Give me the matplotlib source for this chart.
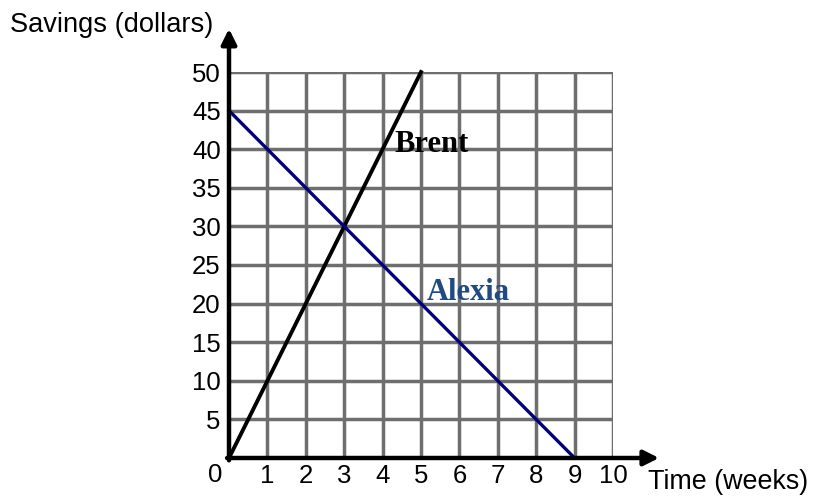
import matplotlib
matplotlib.use("Agg")
import matplotlib.pyplot as plt

# savings over time for the two people
brent_weeks = [0, 5]
brent_savings = [0, 50]
alexia_weeks = [0, 9]
alexia_savings = [45, 0]

x_ticks = list(range(1, 11))
y_ticks = list(range(5, 55, 5))

W, H = 814, 497
fig = plt.figure(figsize=(W / 100, H / 100), dpi=100)
# axes placed so that 0..10 weeks spans px 229..613 and 0..50 dollars spans px 458..72
ax = fig.add_axes([229 / W, (H - 458) / H, 384 / W, 386 / H])
ax.set_xlim(0, 10)
ax.set_ylim(0, 50)

sans = "Liberation Sans"
serif = "Liberation Serif"
grid_c = "#6e6e6e"

# grid
for x in x_ticks:
    ax.plot([x, x], [0, 50], color=grid_c, lw=2.5, zorder=1, solid_capstyle="projecting")
for y in y_ticks:
    ax.plot([0, 10], [y, y], color=grid_c, lw=2.5, zorder=1, solid_capstyle="projecting")

for s in ax.spines.values():
    s.set_visible(False)

# lines
ax.plot(brent_weeks, brent_savings, color="black", lw=2.8, zorder=3, clip_on=False)
ax.plot(alexia_weeks, alexia_savings, color="#00007a", lw=2.4, zorder=3, clip_on=False)

# axes with arrows
ax.annotate("", xy=(11.2, 0), xytext=(-0.05, 0),
            arrowprops=dict(arrowstyle="-|>,head_length=0.9,head_width=0.45",
                            color="black", lw=3.2, shrinkA=0, shrinkB=0),
            annotation_clip=False, zorder=4)
ax.annotate("", xy=(0, 55.6), xytext=(0, -0.3),
            arrowprops=dict(arrowstyle="-|>,head_length=0.9,head_width=0.45",
                            color="black", lw=3.2, shrinkA=0, shrinkB=0),
            annotation_clip=False, zorder=4)

# tick labels
ax.set_xticks(x_ticks)
ax.set_xticklabels([str(v) for v in x_ticks], fontsize=18.5, family=sans)
ax.set_yticks(y_ticks)
ax.set_yticklabels([str(v) for v in y_ticks], fontsize=18.5, family=sans)
ax.tick_params(length=0, pad=4)
ax.tick_params(axis="y", pad=6)
ax.text(-0.36, -0.7, "0", fontsize=18.5, family=sans, ha="center", va="top")

# line labels
ax.text(4.32, 39.6, "Brent", fontsize=22, family=serif, weight="bold",
        color="black", zorder=5)
ax.text(5.16, 20.5, "Alexia", fontsize=22, family=serif, weight="bold",
        color="#1f4a82", zorder=5)

# axis titles
fig.text(10 / W, 1 - 25 / H, "Savings (dollars)", fontsize=19.6, family=sans,
         ha="left", va="center")
fig.text(648 / W, 1 - 482 / H, "Time (weeks)", fontsize=19.4, family=sans,
         ha="left", va="center")

fig.savefig("out.png", dpi=100)
